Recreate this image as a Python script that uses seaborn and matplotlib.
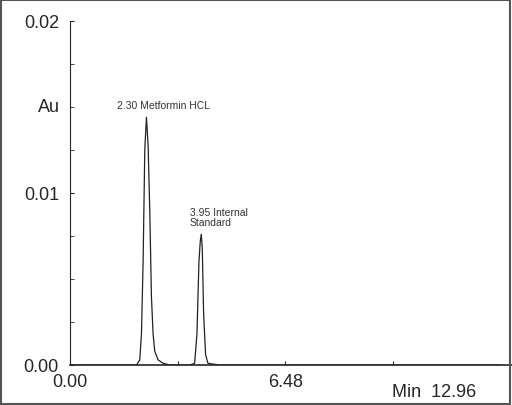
import matplotlib
matplotlib.use("Agg")
import matplotlib.pyplot as plt
import matplotlib.patches as mpatches
import seaborn as sns
import pandas as pd

sns.set_style("white")
plt.rcParams['font.family'] = ['Liberation Sans', 'DejaVu Sans']

time_min = [0.0, 1.0, 2.0, 2.10, 2.15, 2.20, 2.25, 2.30, 2.35, 2.40, 2.45, 2.50, 2.55, 2.65, 2.80, 3.0,
            3.6, 3.75, 3.82, 3.88, 3.92, 3.95, 3.98, 4.02, 4.08, 4.15, 4.5, 6.0, 9.0, 12.96]
absorbance = [0.0, 0.0, 0.0, 0.0003, 0.0018, 0.0060, 0.0125, 0.0144, 0.0128, 0.0090, 0.0040, 0.0018, 0.0008, 0.0003, 0.0001, 0.0,
              0.0, 0.0001, 0.0018, 0.0060, 0.0072, 0.0076, 0.0068, 0.0030, 0.0006, 0.0001, 0.0, 0.0, 0.0, 0.0]
peak_labels = ["2.30 Metformin HCL", "3.95 Internal\nStandard"]
peak_pos = [(2.30, 0.0148), (3.95, 0.0080)]

df = pd.DataFrame({"t": time_min, "au": absorbance})

fig = plt.figure(figsize=(5.12, 4.06), dpi=100)
fig.patches.append(mpatches.Rectangle((0.002, 0.003), 0.995, 0.994, transform=fig.transFigure,
                                      fill=False, edgecolor="#555555", linewidth=1.5))
ax = fig.add_axes([70/512, 40/406, 442/512, 344/406])
sns.lineplot(data=df, x="t", y="au", ax=ax, color="#222222", linewidth=0.9)

ax.set_xlim(0, 13.3)
ax.set_ylim(0, 0.02)
for s in ["top", "right"]:
    ax.spines[s].set_visible(False)
ax.spines["left"].set_linestyle((0, (6, 1)))
ax.spines["left"].set_linewidth(0.8)
ax.spines["bottom"].set_linewidth(1.2)
ax.set_xlabel("")
ax.set_ylabel("")
ax.set_yticks([0, 0.01, 0.02])
ax.set_yticklabels(["0.00", "0.01", "0.02"], fontsize=13)
ax.set_yticks([0.0025 * i for i in range(9)], minor=True)
ax.set_xticks([0, 3.24, 6.48, 9.72])
ax.set_xticklabels(["0.00", "", "6.48", ""], fontsize=13)
ax.tick_params(axis="both", which="both", direction="in", length=3, left=True, bottom=True)
ax.tick_params(axis="y", pad=8)
ax.tick_params(axis="x", pad=6)
ax.text(9.7, -0.00105, "Min  12.96", fontsize=13, va="top", ha="left")
ax.text(-0.3, 0.0150, "Au", fontsize=13, ha="right", va="center")
for lab, (x, y) in zip(peak_labels, peak_pos):
    ax.text(x - 0.9 if "Metformin" in lab else x - 0.35, y, lab, fontsize=7.5, ha="left", va="bottom", color="#333333",
            linespacing=1.0)
fig.savefig("out.png", dpi=100)
